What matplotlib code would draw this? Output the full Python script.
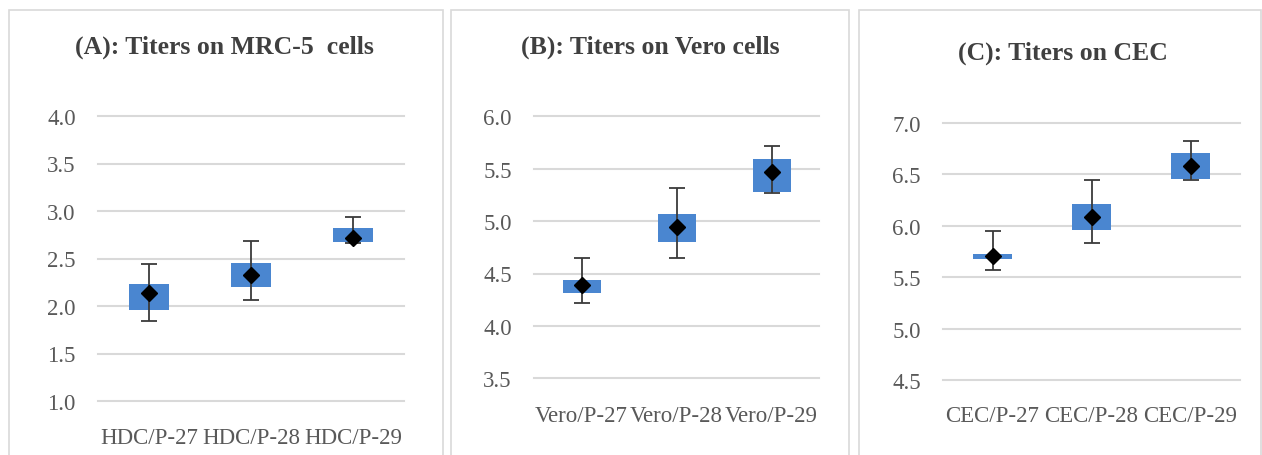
import matplotlib
matplotlib.use("Agg")
import matplotlib.pyplot as plt
from matplotlib.patches import Rectangle

plt.rcParams['font.family'] = ['Liberation Serif', 'DejaVu Serif']

titles = ["(A): Titers on MRC-5  cells", "(B): Titers on Vero cells", "(C): Titers on CEC"]
cats_a = ["HDC/P-27", "HDC/P-28", "HDC/P-29"]
cats_b = ["Vero/P-27", "Vero/P-28", "Vero/P-29"]
cats_c = ["CEC/P-27", "CEC/P-28", "CEC/P-29"]

# box low/high, whisker low/high, mean
box_lo_a = [1.96, 2.20, 2.67]
box_hi_a = [2.23, 2.45, 2.82]
wh_lo_a = [1.84, 2.06, 2.66]
wh_hi_a = [2.44, 2.68, 2.94]
mean_a = [2.14, 2.33, 2.72]

box_lo_b = [4.31, 4.80, 5.28]
box_hi_b = [4.44, 5.07, 5.59]
wh_lo_b = [4.22, 4.65, 5.27]
wh_hi_b = [4.65, 5.32, 5.72]
mean_b = [4.39, 4.94, 5.47]

box_lo_c = [5.68, 5.96, 6.45]
box_hi_c = [5.73, 6.21, 6.71]
wh_lo_c = [5.57, 5.83, 6.44]
wh_hi_c = [5.95, 6.44, 6.82]
mean_c = [5.71, 6.08, 6.58]

yticks_a = [1.0, 1.5, 2.0, 2.5, 3.0, 3.5, 4.0]
yticks_b = [3.5, 4.0, 4.5, 5.0, 5.5, 6.0]
yticks_c = [4.5, 5.0, 5.5, 6.0, 6.5, 7.0]

W, H = 1262, 456
fig = plt.figure(figsize=(W / 100, H / 100), dpi=100)
fig.patch.set_facecolor('white')

def fx(px):
    return px / W

def fy(py):
    return 1 - py / H

# panel borders
for (x0, x1) in [(9, 443), (451, 849), (859, 1261)]:
    fig.add_artist(Rectangle((fx(x0), fy(470)), fx(x1 - x0), (470 - 11) / H,
                             transform=fig.transFigure, fill=False,
                             edgecolor='#d9d9d9', linewidth=1.2))

panels = [
    dict(rect=(98, 404, 117, 402), cats=cats_a, blo=box_lo_a, bhi=box_hi_a, wlo=wh_lo_a, whi=wh_hi_a,
         mean=mean_a, yt=yticks_a, title=titles[0], tx=224, ty=47, xl_pad=19),
    dict(rect=(534, 819, 117.3, 379.3), cats=cats_b, blo=box_lo_b, bhi=box_hi_b, wlo=wh_lo_b, whi=wh_hi_b,
         mean=mean_b, yt=yticks_b, title=titles[1], tx=650, ty=47, xl_pad=19),
    dict(rect=(943, 1240, 123.7, 381.3), cats=cats_c, blo=box_lo_c, bhi=box_hi_c, wlo=wh_lo_c, whi=wh_hi_c,
         mean=mean_c, yt=yticks_c, title=titles[2], tx=1063, ty=53, xl_pad=18),
]

box_color = '#4a86d0'
tick_color = '#595959'
title_color = '#404040'

for p in panels:
    x0, x1, ytop, ybot = p['rect']
    ax = fig.add_axes([fx(x0), fy(ybot), fx(x1 - x0), (ybot - ytop) / H])
    xs = list(range(len(p['cats'])))
    heights = [h - l for h, l in zip(p['bhi'], p['blo'])]
    ax.bar(xs, heights, bottom=p['blo'], width=0.4, color=box_color, zorder=2)
    yerr = [[m - l for m, l in zip(p['mean'], p['wlo'])],
            [h - m for m, h in zip(p['mean'], p['whi'])]]
    ax.errorbar(xs, p['mean'], yerr=yerr, fmt='none', ecolor='#3a3a3a',
                elinewidth=1.3, capsize=5.5, capthick=1.3, zorder=3)
    ax.plot(xs, p['mean'], linestyle='none', marker='D', markersize=8,
            color='black', zorder=4)
    ax.set_xlim(-0.5, len(xs) - 0.5)
    ax.set_ylim(p['yt'][0], p['yt'][-1])
    ax.set_yticks(p['yt'])
    ax.set_yticklabels([f"{v:.1f}" for v in p['yt']])
    ax.set_xticks(xs)
    ax.set_xticklabels(p['cats'])
    ax.tick_params(axis='both', length=0, labelsize=16.5, colors=tick_color)
    ax.tick_params(axis='y', pad=16)
    ax.tick_params(axis='x', pad=p['xl_pad'])
    for s in ax.spines.values():
        s.set_visible(False)
    ax.yaxis.grid(True, color='#d9d9d9', linewidth=1.5, zorder=0)
    ax.set_axisbelow(True)
    for gl in ax.get_ygridlines():
        gl.set_clip_on(False)
    ax.set_facecolor('none')
    fig.text(fx(p['tx']), fy(p['ty']), p['title'], ha='center', va='center',
             fontsize=18.5, fontweight='bold', color=title_color)

fig.savefig('out.png', dpi=100, facecolor='white')
